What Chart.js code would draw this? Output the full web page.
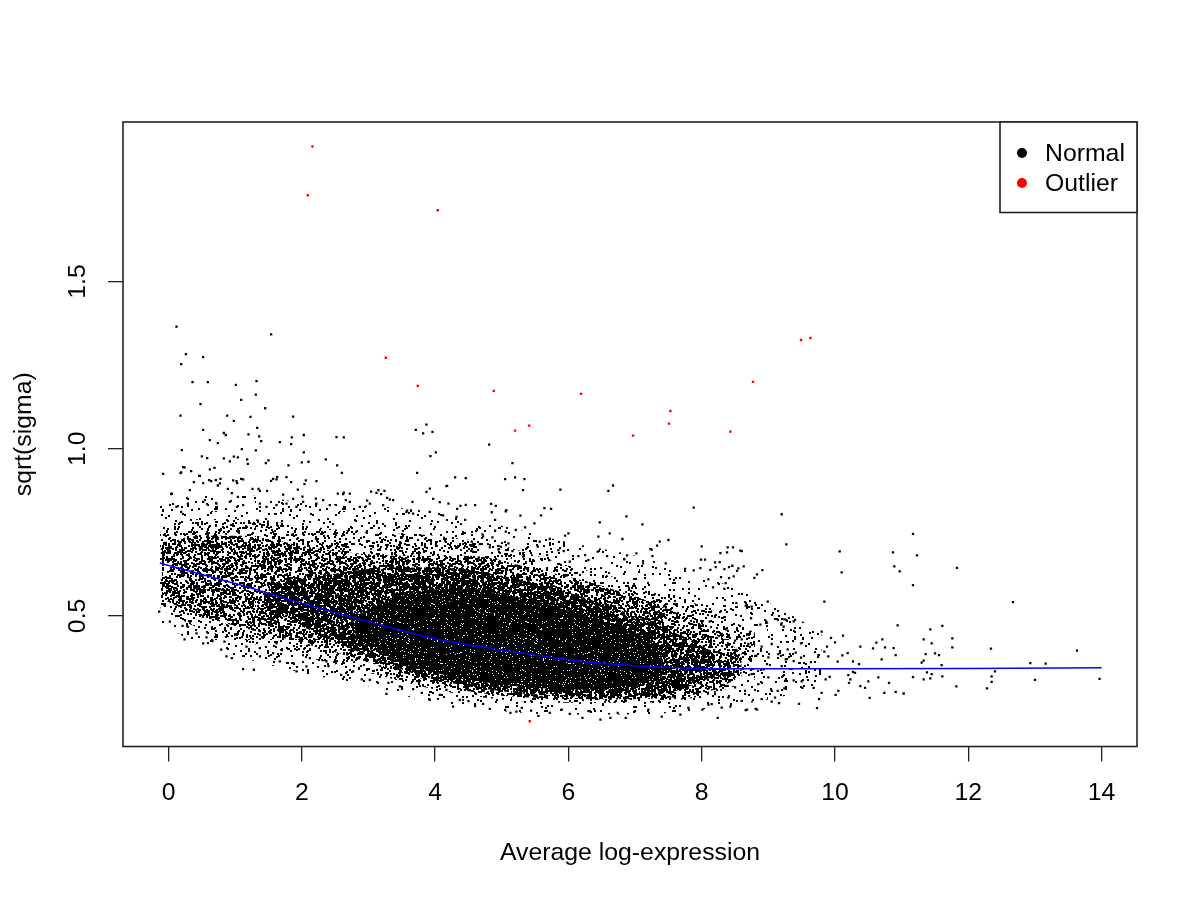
<!DOCTYPE html>
<html><head><meta charset="utf-8">
<script src="https://cdn.jsdelivr.net/npm/chart.js@4.4.1/dist/chart.umd.min.js"></script>
<style>html,body{margin:0;padding:0;background:#fff}canvas{display:block}</style>
</head><body>
<canvas id="c" width="1200" height="900"></canvas>
<script>
// ---------- labels ----------
const xTicks = [0, 2, 4, 6, 8, 10, 12, 14];
const yTicks = [0.5, 1.0, 1.5];
const xTitle = 'Average log-expression';
const yTitle = 'sqrt(sigma)';
const legendLabels = ['Normal', 'Outlier'];

// ---------- outliers (red) ----------
const outlierPts = [[2.16,1.904],[2.09,1.758],[4.04,1.713],[3.26,1.272],[3.74,1.188],[4.88,1.173],[5.20,1.054],[5.41,1.069],[6.19,1.164],[6.97,1.039],[7.51,1.075],[7.53,1.113],[8.43,1.051],[8.77,1.200],[9.49,1.325],[9.63,1.331],[5.42,0.185]];

// ---------- normal genes read individually (sparse parts of the cloud) ----------
const normalUpperLeft = [[0.12,1.365],[1.54,1.342],[0.26,1.283],[0.52,1.274],[0.19,1.253],[0.36,1.199],[0.59,1.199],[1.01,1.191],[1.32,1.202],[1.09,1.146],[1.31,1.162],[0.48,1.133],[1.45,1.121],[0.18,1.099],[0.88,1.099],[1.23,1.095],[1.87,1.096],[0.98,1.083],[0.52,1.056],[1.33,1.062],[0.83,1.047],[0.86,1.041],[1.20,1.043],[1.36,1.037],[0.62,1.026],[0.74,1.017],[1.39,1.023],[1.67,1.020],[1.85,1.034],[1.84,1.014],[2.03,1.041],[2.52,1.035],[2.63,1.034],[0.20,0.996],[1.10,0.999],[1.31,0.995],[2.03,0.989],[0.50,0.977],[0.58,0.972],[0.83,0.971],[0.98,0.976],[1.04,0.974],[1.18,0.968],[0.92,0.962],[1.19,0.955],[1.46,0.957],[1.50,0.965],[1.80,0.950],[2.00,0.959],[2.10,0.961],[2.36,0.968],[2.53,0.950],[2.60,0.928],[-0.08,0.925],[0.22,0.945],[0.24,0.944],[0.18,0.927],[0.34,0.933],[0.46,0.919],[0.62,0.938],[0.69,0.943],[1.54,0.904],[1.57,0.910],[1.63,0.915],[1.84,0.900],[2.06,0.905],[0.05,0.866],[0.38,0.900],[0.52,0.897],[0.61,0.906],[0.71,0.906],[0.74,0.890],[0.78,0.910],[0.97,0.905],[1.03,0.897],[1.09,0.910],[0.89,0.880],[0.95,0.867],[1.26,0.880],[1.35,0.880],[1.48,0.874],[1.72,0.863],[1.94,0.878],[1.87,0.850],[2.54,0.866],[2.63,0.869],[2.98,0.845],[2.66,0.846],[2.21,0.851],[2.01,0.857],[0.19,0.929],[0.47,0.919],[0.04,0.864],[0.32,0.876],[0.64,0.903],[0.77,0.896],[1.02,0.903],[1.12,0.908],[1.37,0.874],[1.62,0.908],[1.77,0.915],[2.04,0.894],[2.22,0.903],[2.62,0.864],[2.72,0.866],[0.12,0.826],[0.19,0.811],[0.29,0.836],[0.52,0.841],[0.72,0.836],[0.92,0.841],[1.04,0.856],[1.12,0.831],[1.37,0.836],[1.47,0.826],[1.62,0.831],[1.77,0.836],[1.92,0.826],[2.02,0.841],[2.22,0.836],[2.32,0.846],[2.42,0.831],[2.72,0.841],[2.87,0.826]];

const normalUpperMid = [[3.71,1.056],[3.87,1.072],[3.82,1.046],[3.96,1.050],[4.81,1.012],[4.01,0.989],[3.93,0.978],[5.16,0.957],[3.73,0.928],[4.30,0.914],[4.46,0.912],[5.05,0.909],[5.20,0.914],[5.34,0.909],[4.18,0.889],[5.32,0.876],[5.88,0.878],[3.92,0.881],[3.87,0.871],[6.60,0.874],[6.67,0.890],[3.66,0.841],[3.97,0.850],[4.07,0.840],[4.38,0.829],[4.46,0.832],[4.84,0.835],[4.91,0.829],[5.64,0.822],[5.74,0.820],[5.07,0.816],[3.58,0.815],[4.33,0.820],[7.88,0.824],[6.87,0.798],[6.47,0.780],[7.11,0.774],[3.04,0.872],[3.15,0.876],[3.19,0.864],[3.28,0.853],[3.12,0.868],[3.24,0.874],[3.32,0.848],[4.17,0.888],[4.20,0.836],[3.02,0.836],[3.22,0.831],[3.37,0.846],[3.57,0.811],[3.67,0.806],[3.92,0.811],[4.12,0.801],[4.32,0.796],[4.45,0.787],[4.60,0.831],[4.85,0.810],[5.06,0.813],[5.28,0.800],[5.59,0.801],[4.90,0.787],[5.35,0.765],[5.49,0.777],[4.90,0.755],[5.06,0.752],[4.86,0.735],[4.72,0.738],[5.21,0.757],[6.00,0.747],[5.95,0.740],[6.45,0.737],[6.62,0.747],[6.81,0.730],[7.37,0.722],[7.50,0.727],[7.23,0.700],[7.33,0.710],[7.25,0.698],[8.00,0.708],[8.39,0.705],[8.60,0.694],[8.28,0.688],[7.99,0.668],[8.20,0.660],[5.57,0.722],[5.72,0.730],[5.54,0.707],[5.10,0.717],[5.16,0.694],[4.71,0.744],[4.67,0.715],[4.82,0.705],[4.95,0.699],[5.07,0.683],[5.85,0.697],[5.93,0.694],[5.68,0.682],[5.71,0.667],[5.32,0.677],[5.47,0.667],[6.02,0.662],[6.15,0.679],[6.25,0.682],[6.30,0.667],[6.44,0.692],[6.58,0.679],[6.84,0.669],[6.88,0.681],[7.02,0.687],[7.12,0.657],[7.26,0.679],[7.46,0.657],[7.75,0.641],[7.88,0.636],[7.98,0.643],[8.13,0.638],[8.34,0.640],[8.53,0.635],[8.55,0.642],[8.91,0.637],[8.79,0.614],[4.55,0.722],[4.57,0.692],[4.65,0.672],[4.70,0.657]];

const normalRightTail = [[8.05,0.668],[8.27,0.661],[8.47,0.705],[8.38,0.690],[8.58,0.695],[8.21,0.646],[8.41,0.646],[8.46,0.650],[8.63,0.648],[8.10,0.609],[8.29,0.616],[8.41,0.613],[8.48,0.618],[8.83,0.624],[8.36,0.598],[8.17,0.585],[8.34,0.581],[8.52,0.538],[8.66,0.531],[8.75,0.528],[8.68,0.526],[8.99,0.543],[9.20,0.478],[9.27,0.488],[9.23,0.468],[9.40,0.488],[9.20,0.804],[9.27,0.714],[11.17,0.745],[10.07,0.693],[10.10,0.630],[10.87,0.690],[11.23,0.681],[10.89,0.648],[10.97,0.633],[11.17,0.592],[11.83,0.644],[12.67,0.541],[9.84,0.543],[10.94,0.472],[11.43,0.460],[11.61,0.470],[11.76,0.433],[11.76,0.406],[12.34,0.402],[13.63,0.396],[11.33,0.430],[11.45,0.418],[10.71,0.430],[10.75,0.406],[10.88,0.404],[10.57,0.403],[10.62,0.420],[10.38,0.408],[10.91,0.383],[11.36,0.386],[11.50,0.388],[11.56,0.383],[11.60,0.353],[11.33,0.366],[11.30,0.360],[10.70,0.370],[12.93,0.359],[13.16,0.357],[12.40,0.334],[12.35,0.319],[12.35,0.303],[12.28,0.283],[13.00,0.309],[13.97,0.312],[11.82,0.289],[11.61,0.319],[11.43,0.313],[11.38,0.331],[11.45,0.326],[11.33,0.310],[11.17,0.317],[11.03,0.268],[10.91,0.273],[10.74,0.270],[10.81,0.300],[10.52,0.255],[10.65,0.316],[10.30,0.330],[10.23,0.310],[10.21,0.300],[10.50,0.304],[10.38,0.290],[10.45,0.285],[9.73,0.224],[9.46,0.237],[9.16,0.239],[9.05,0.244],[8.81,0.222],[8.66,0.218],[8.24,0.195],[8.43,0.229],[9.76,0.251],[9.80,0.270],[9.68,0.285],[9.51,0.285],[9.50,0.304],[9.38,0.307],[9.24,0.283],[9.14,0.276],[9.86,0.310],[9.92,0.318],[10.05,0.276],[10.01,0.264],[10.20,0.323],[10.27,0.333],[9.80,0.453],[9.94,0.434],[10.12,0.441],[10.00,0.421],[9.88,0.408],[9.84,0.393],[10.11,0.382],[10.19,0.389],[9.75,0.382],[9.90,0.379],[10.04,0.363],[10.27,0.364],[10.36,0.356],[9.64,0.362],[9.49,0.375],[9.38,0.365],[9.26,0.370],[9.41,0.390],[9.29,0.400],[9.49,0.418],[9.38,0.484],[9.24,0.490],[9.19,0.474],[8.98,0.480],[8.88,0.474],[8.74,0.493],[8.37,0.460],[8.12,0.483],[8.30,0.446],[8.50,0.426],[8.60,0.430],[8.70,0.416],[8.90,0.408],[9.05,0.416],[9.15,0.386],[9.00,0.376],[8.82,0.381],[8.65,0.386],[8.98,0.356],[9.20,0.350],[8.93,0.340],[8.75,0.326],[9.00,0.316],[9.25,0.306],[8.85,0.296],[9.05,0.276],[8.65,0.276],[8.50,0.286],[8.90,0.251],[8.60,0.246],[9.10,0.256],[8.40,0.256],[8.20,0.266],[8.15,0.236],[8.30,0.226]];

const normalLowerFringe = [[-0.14,0.513],[0.02,0.483],[0.24,0.430],[0.52,0.418],[0.66,0.425],[0.79,0.399],[0.87,0.379],[0.95,0.374],[1.12,0.341],[1.28,0.339],[1.37,0.379],[1.67,0.364],[1.57,0.389],[1.92,0.334],[2.07,0.349],[2.37,0.364],[2.59,0.324],[2.77,0.334],[3.02,0.309],[3.27,0.267],[3.47,0.289],[3.67,0.281],[3.92,0.249],[4.07,0.264],[4.27,0.229],[4.37,0.249],[4.17,0.279],[0.21,0.470],[0.42,0.448],[0.57,0.436],[0.84,0.423],[1.17,0.408],[1.37,0.404],[1.62,0.418],[1.87,0.359],[2.12,0.374],[5.05,0.219],[5.22,0.214],[5.13,0.210],[5.55,0.201],[6.02,0.207],[6.21,0.195],[6.48,0.190],[6.63,0.195],[7.40,0.199],[8.83,0.220],[8.68,0.220],[6.74,0.210],[6.86,0.195],[7.68,0.205],[8.01,0.220],[4.82,0.222],[4.72,0.237],[5.72,0.210],[5.44,0.217],[2.40,0.350],[2.90,0.310],[3.30,0.300],[3.80,0.270],[4.50,0.245],[4.60,0.230],[5.30,0.225],[5.90,0.220],[6.30,0.215],[7.00,0.215],[7.20,0.220],[7.80,0.225],[8.10,0.235]];

// ---------- dense body of the cloud: envelopes ----------
const faintX  = [-0.13, 0.5, 1.2, 2, 3, 4, 5, 6, 7, 8, 9, 9.8];
const faintHi = [0.84, 0.86, 0.86, 0.84, 0.83, 0.81, 0.77, 0.72, 0.68, 0.62, 0.54, 0.45];
const faintLo = [0.48, 0.41, 0.37, 0.33, 0.29, 0.24, 0.215, 0.205, 0.205, 0.22, 0.25, 0.29];
const haloX  = [-0.12, 0.5, 1.2, 2, 3, 4, 5, 6, 7, 8, 8.8];
const haloHi = [0.77, 0.79, 0.79, 0.77, 0.75, 0.74, 0.71, 0.65, 0.60, 0.53, 0.45];
const haloLo = [0.52, 0.46, 0.42, 0.38, 0.33, 0.28, 0.25, 0.24, 0.24, 0.26, 0.31];
const midX  = [-0.1, 0.5, 1.2, 2, 2.7, 3.5, 4.5, 5.5, 6.5, 7.5, 8.2, 8.6];
const midHi = [0.72, 0.74, 0.74, 0.71, 0.69, 0.68, 0.68, 0.64, 0.59, 0.52, 0.45, 0.39];
const midLo = [0.55, 0.50, 0.46, 0.42, 0.38, 0.33, 0.275, 0.255, 0.25, 0.255, 0.28, 0.32];
const thickX  = [1.5, 2.3, 3.0, 3.5, 4.0, 5.0, 6.0, 7.0, 7.6, 8.2];
const thickHi = [0.60, 0.62, 0.64, 0.645, 0.645, 0.62, 0.57, 0.50, 0.45, 0.39];
const thickLo = [0.52, 0.44, 0.38, 0.34, 0.31, 0.275, 0.26, 0.26, 0.275, 0.32];
const coreX  = [2.8, 3.5, 4.0, 4.5, 5.0, 5.5, 6.0, 6.5, 7.0, 7.4];
const coreHi = [0.50, 0.56, 0.58, 0.58, 0.565, 0.545, 0.515, 0.485, 0.45, 0.41];
const coreLo = [0.43, 0.36, 0.33, 0.31, 0.295, 0.285, 0.28, 0.28, 0.29, 0.31];

// ---------- loess trend (blue) ----------
const trendX = [-0.13, 0.5, 1, 2, 3, 4, 5, 6, 7, 8, 9, 10, 12, 14];
const trendY = [0.658, 0.624, 0.597, 0.538, 0.483, 0.432, 0.398, 0.369, 0.351, 0.343, 0.342, 0.342, 0.343, 0.345];

// ---------- helpers ----------
const canvas = document.getElementById('c');
const ctx = canvas.getContext('2d');
const FONT = { family: '"Liberation Sans", Arial, Helvetica, sans-serif', size: 24.8 };
const pairs = arr => arr.map(p => ({ x: p[0], y: p[1] }));
const toXY = (xs, ys) => xs.map((x, i) => ({ x, y: ys[i] }));

// stipple textures (style only) used to paint the dense parts of the cloud
function hash(i, j, s) {
  let n = (Math.imul(i, 374761393) + Math.imul(j, 668265263) + Math.imul(s, 1442695041)) | 0;
  n = Math.imul(n ^ (n >>> 13), 1274126177);
  n = n ^ (n >>> 16);
  return (n >>> 0) / 4294967296;
}
function stipple(coverage, seed) {
  const size = 128, c = document.createElement('canvas');
  c.width = size; c.height = size;
  const g = c.getContext('2d');
  g.fillStyle = '#000';
  const q = 1 - Math.pow(1 - coverage, 0.25);
  for (let i = 0; i < size; i++) for (let j = 0; j < size; j++) {
    if (hash(i, j, seed) < q) g.fillRect(i, j, 2, 2);
  }
  return ctx.createPattern(c, 'repeat');
}
function solidWithHoles(holes, seed) {
  const size = 128, c = document.createElement('canvas');
  c.width = size; c.height = size;
  const g = c.getContext('2d');
  g.fillStyle = '#000'; g.fillRect(0, 0, size, size);
  g.fillStyle = '#fff';
  for (let i = 0; i < size; i++) for (let j = 0; j < size; j++) {
    if (hash(i, j, seed) < holes) g.fillRect(i, j, 1, 1);
  }
  return ctx.createPattern(c, 'repeat');
}
const faintFill = stipple(0.10, 3);
const haloFill = stipple(0.20, 7);
const midFill = stipple(0.42, 13);
const thickFill = stipple(0.62, 19);
const coreFill = solidWithHoles(0.045, 29);

function band(label, xs, hi, lo, fillStyle, order) {
  const common = { type: 'line', showLine: true, pointRadius: 0, borderWidth: 0, borderColor: 'rgba(0,0,0,0)', cubicInterpolationMode: 'monotone', order };
  return [
    Object.assign({ label: label + '-hi', data: toXY(xs, hi), fill: '+1', backgroundColor: fillStyle }, common),
    Object.assign({ label: label + '-lo', data: toXY(xs, lo), fill: false, backgroundColor: 'rgba(0,0,0,0)' }, common)
  ];
}

const normalAll = [].concat(normalUpperLeft, normalUpperMid, normalRightTail, normalLowerFringe);

const frameAndLegend = {
  id: 'frameAndLegend',
  afterDraw(chart) {
    const a = chart.chartArea, c = chart.ctx;
    c.save();
    c.strokeStyle = '#222'; c.lineWidth = 1.6;
    c.strokeRect(a.left, a.top, a.right - a.left, a.bottom - a.top);
    const bw = 137, bh = 90.5, bx = a.right - bw, by = a.top;
    c.fillStyle = '#fff';
    c.fillRect(bx, by, bw, bh);
    c.strokeRect(bx, by, bw, bh);
    const colors = ['#000000', '#ff0000'];
    c.font = FONT.size + 'px ' + FONT.family;
    c.textBaseline = 'middle'; c.textAlign = 'left';
    legendLabels.forEach((lab, i) => {
      const cy = by + 31 + i * 30;
      c.beginPath(); c.arc(bx + 22, cy, 5, 0, Math.PI * 2);
      c.fillStyle = colors[i]; c.fill();
      c.fillStyle = '#000';
      c.fillText(lab, bx + 45, cy + 1);
    });
    c.restore();
  }
};

new Chart(ctx, {
  type: 'scatter',
  data: {
    datasets: [
      { label: 'trend', type: 'line', showLine: true, data: toXY(trendX, trendY), borderColor: '#0000ff', borderWidth: 1.5, pointRadius: 0, fill: false, cubicInterpolationMode: 'monotone', order: 0 },
      { label: legendLabels[1], data: pairs(outlierPts), pointStyle: 'rect', pointRadius: 1.7, backgroundColor: '#ff0000', borderWidth: 0, order: 1 },
      { label: legendLabels[0], data: pairs(normalAll), pointStyle: 'rect', pointRadius: 1.6, backgroundColor: '#000000', borderWidth: 0, order: 2 },
      ...band('core', coreX, coreHi, coreLo, coreFill, 3),
      ...band('thick', thickX, thickHi, thickLo, thickFill, 4),
      ...band('mid', midX, midHi, midLo, midFill, 5),
      ...band('halo', haloX, haloHi, haloLo, haloFill, 6),
      ...band('faint', faintX, faintHi, faintLo, faintFill, 7)
    ]
  },
  options: {
    responsive: false,
    devicePixelRatio: 1,
    animation: false,
    events: [],
    layout: { padding: { left: 0, top: 122, right: 63, bottom: 0 } },
    plugins: { legend: { display: false }, tooltip: { enabled: false } },
    scales: {
      x: {
        type: 'linear', min: -0.683, max: 14.531,
        afterFit: s => { s.height = 153.5; },
        afterBuildTicks: s => { s.ticks = xTicks.map(v => ({ value: v })); },
        ticks: { font: FONT, color: '#000', padding: 16.8, maxRotation: 0, minRotation: 0, autoSkip: false, callback: v => String(v) },
        grid: { drawOnChartArea: false, drawTicks: true, tickLength: 15, color: '#222', lineWidth: 1.3 },
        border: { display: false },
        title: { display: true, text: xTitle, font: FONT, color: '#000', padding: { top: 0, bottom: 32.1 } }
      },
      y: {
        type: 'linear', min: 0.1095, max: 1.977,
        afterFit: s => { s.width = 123; },
        afterBuildTicks: s => { s.ticks = yTicks.map(v => ({ value: v })); },
        ticks: { font: FONT, color: '#000', padding: 12.5, minRotation: 90, maxRotation: 90, crossAlign: 'center', autoSkip: false, callback: v => v.toFixed(1) },
        grid: { drawOnChartArea: false, drawTicks: true, tickLength: 15, color: '#222', lineWidth: 1.3 },
        border: { display: false },
        title: { display: true, text: yTitle, font: FONT, color: '#000', padding: { top: 9, bottom: 0 } }
      }
    }
  },
  plugins: [frameAndLegend]
});
</script>
</body></html>
